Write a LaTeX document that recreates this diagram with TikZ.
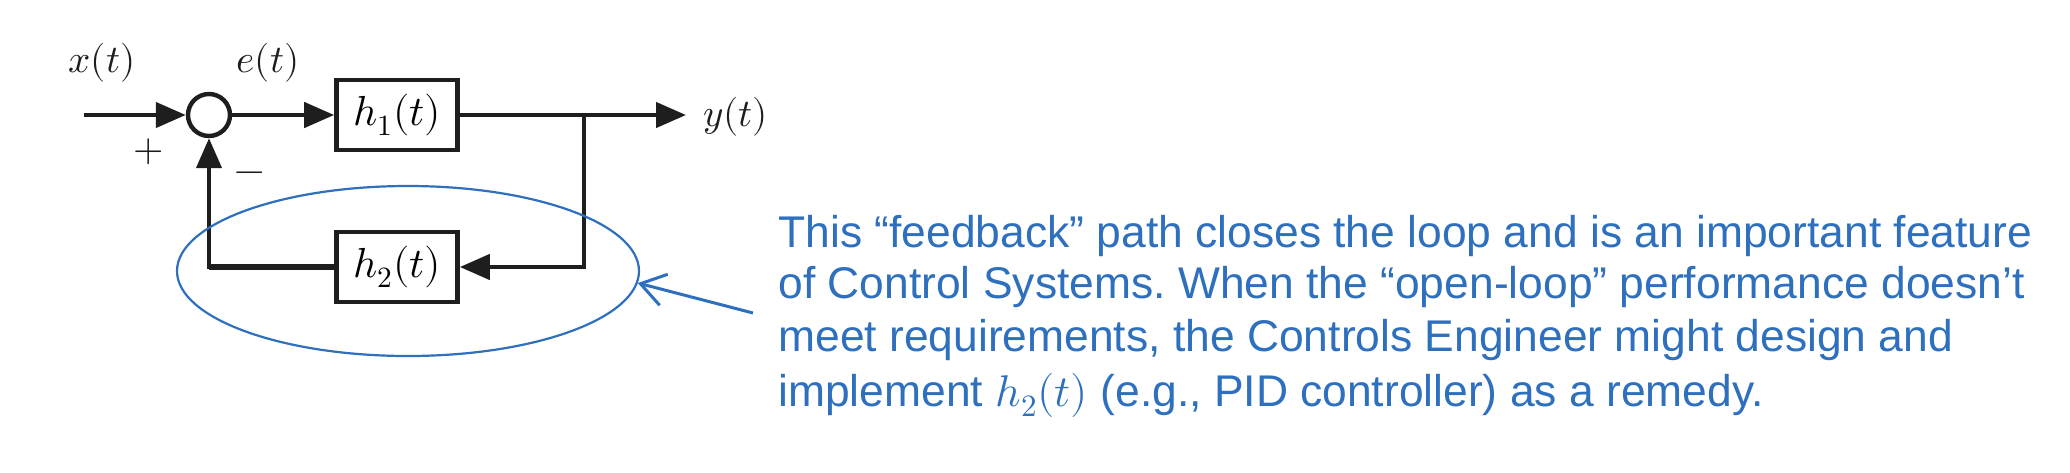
\documentclass[tikz,border=0pt]{standalone}
\usepackage{fontspec}
\usepackage{unicode-math}
\newfontfamily\arialfont{Liberation Sans}
\usetikzlibrary{arrows.meta,shapes.geometric}
\definecolor{noteblue}{RGB}{46,112,190}
\definecolor{diag}{RGB}{30,30,30}
\frenchspacing
\begin{document}
\begin{tikzpicture}[x=0.5pt,y=-0.5pt,
  wire/.style={line width=2.2pt, draw=diag, line join=miter},
  sig/.style={wire, -{Triangle[length=15pt,width=12.5pt]}},
  blk/.style={draw=diag, line width=2.3pt, minimum width=60.5pt, minimum height=35pt, inner sep=0pt, font=\fontsize{21}{25}\selectfont},
  sumc/.style={draw=diag, line width=2.2pt, circle, minimum size=21pt, inner sep=0pt},
  lab/.style={inner sep=0pt, text=diag, font=\fontsize{19.5}{24}\selectfont},
  note/.style={anchor=base west, inner sep=0pt, text=noteblue, font=\arialfont\fontsize{22.2}{26}\selectfont},
  hl/.style={draw=noteblue, line width=1.1pt, ellipse, minimum width=231pt, minimum height=85pt, inner sep=0pt},
  pointer/.style={draw=noteblue, line width=1.5pt, -{Straight Barb[length=12pt,width=16pt]}}
]
\fill[white] (0,0) rectangle (2070,472);
\useasboundingbox (0,0) rectangle (2070,472);

% blocks
\node[sumc] (sum) at (209,115) {};
\node[blk] (h1) at (397,115) {$h_1(t)$};
\node[blk] (h2) at (397,267) {$h_2(t)$};

% free ends and corners
\coordinate (in) at (84,115);
\coordinate (out) at (686,115);
\coordinate (br) at (584,115);
\coordinate (brd) at (584,267);
\coordinate (fbl) at (209,267);

% connectors
\draw[sig] (in) -- (sum.west);
\draw[sig] (sum.east) -- (h1.west);
\draw[sig] (h1.east) -- (out);
\draw[sig] (br) -- (brd) -- (h2.east);
\draw[sig] (h2.west) -- (fbl) -- (sum.south);
\draw[wire, line width=3pt, line cap=square] (h2.west) -- (fbl);

% labels
\node[lab] (xl) at (102,63) {$x(t)$};
\node[lab] (el) at (268,63) {$e(t)$};
\node[lab, anchor=west] (yl) at (703,117) {$y(t)$};
\node[lab] (plus) at (149,152) {$+$};
\node[lab] (minus) at (250,177) {$-$};

% highlight ellipse and pointer
\node[hl] (ell) at (408,271) {};
\coordinate (nstart) at (753,313);
\draw[pointer] (nstart) -- (ell.-3);

% note text
\node[note] (t1) at (778,247) {This “feedback” path closes the loop and is an important feature};
\node[note] (t2) at (778,298) {of Control Systems. When the “open-loop” performance doesn’t};
\node[note] (t3) at (778,351) {meet requirements, the Controls Engineer might design and};
\node[note] (t4) at (778,406) {implement $h_2(t)$ (e.g., PID controller) as a remedy.};
\end{tikzpicture}
\end{document}
